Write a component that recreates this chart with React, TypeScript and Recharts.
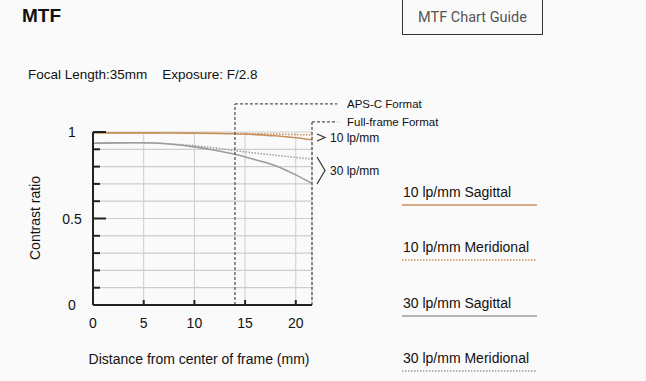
import {
  LineChart, Line, XAxis, YAxis, CartesianGrid, ReferenceLine, Legend
} from 'recharts'

// image height position (mm from centre)
const distance = [0, 2, 4, 6, 8, 10, 12, 14, 16, 18, 20, 21.6]
const sag10 = [0.995, 0.995, 0.995, 0.995, 0.994, 0.993, 0.992, 0.99, 0.985, 0.978, 0.967, 0.955]
const mer10 = [0.995, 0.995, 0.995, 0.995, 0.995, 0.994, 0.993, 0.992, 0.99, 0.988, 0.985, 0.983]
const sag30 = [0.935, 0.937, 0.938, 0.936, 0.928, 0.914, 0.895, 0.871, 0.84, 0.805, 0.752, 0.703]
const mer30 = [0.935, 0.937, 0.938, 0.936, 0.93, 0.921, 0.908, 0.893, 0.878, 0.866, 0.853, 0.843]

const xTicks = [0, 5, 10, 15, 20]
const yTicks = [0, 0.1, 0.2, 0.3, 0.4, 0.5, 0.6, 0.7, 0.8, 0.9, 1]
const yLabels = [0, 0.5, 1]

const apsC = 14
const fullFrame = 21.6
const apsCTop = 1.162
const fullFrameTop = 1.058
const labelEnd = 24.1

const seriesNames = ['10 lp/mm Sagittal', '10 lp/mm Meridional', '30 lp/mm Sagittal', '30 lp/mm Meridional']

const data = distance.map((d, i) => ({
  d, s10: sag10[i], m10: mer10[i], s30: sag30[i], m30: mer30[i]
}))

const ORANGE = '#c8915c'
const GRAY = '#9c9c9c'
const GRID = '#cdcdcd'
const FONT = "'Liberation Sans', Arial, sans-serif"
const INK = '#111'
const PLOT_LEFT = 93
const PLOT_BOTTOM = 305

const legendItems = [
  { name: seriesNames[0], color: ORANGE, dash: undefined },
  { name: seriesNames[1], color: ORANGE, dash: '1.5 1.5' },
  { name: seriesNames[2], color: GRAY, dash: undefined },
  { name: seriesNames[3], color: GRAY, dash: '1.5 1.5' },
]

function YTick({ y, payload }: any) {
  const v = payload.value
  const major = yLabels.some(l => Math.abs(l - v) < 1e-6)
  return (
    <g>
      <line x1={PLOT_LEFT} x2={PLOT_LEFT + (major ? 13 : 7)} y1={y} y2={y} stroke="#222" strokeWidth={2} />
      {major && (
        <text x={72} y={y} textAnchor="middle" dominantBaseline="central" fontSize={14} fill={INK} fontFamily={FONT}>
          {v}
        </text>
      )}
    </g>
  )
}

function XTick({ x, payload }: any) {
  return (
    <g>
      <line x1={x} x2={x} y1={PLOT_BOTTOM} y2={PLOT_BOTTOM - 5} stroke="#222" strokeWidth={2} />
      <text x={x} y={PLOT_BOTTOM + 18} textAnchor="middle" dominantBaseline="central" fontSize={14} fill={INK} fontFamily={FONT}>
        {payload.value}
      </text>
    </g>
  )
}

function LegendList() {
  return (
    <div style={{ fontFamily: FONT }}>
      {legendItems.map(item => (
        <div key={item.name} style={{ height: 55.4, position: 'relative' }}>
          <div style={{ fontSize: 14, color: INK, lineHeight: '18px', paddingLeft: 1 }}>{item.name}</div>
          <svg width={135} height={4} style={{ position: 'absolute', top: 20, left: 0 }}>
            <line x1={0} x2={135} y1={2} y2={2} stroke={item.color} strokeWidth={item.dash ? 1.5 : 1.6} strokeDasharray={item.dash} />
          </svg>
        </div>
      ))}
    </div>
  )
}

export default function App() {
  return (
    <div style={{ position: 'absolute', left: 0, top: 0, width: 646, height: 381, background: '#fafafa', overflow: 'hidden', fontFamily: FONT }}>
      <div style={{ position: 'absolute', left: 22, top: 5, fontSize: 19, fontWeight: 'bold', color: '#111' }}>MTF</div>
      <div style={{
        position: 'absolute', left: 402, top: -1, width: 139, height: 34, border: '1px solid #333',
        display: 'flex', alignItems: 'center', justifyContent: 'center',
        fontFamily: "Roboto, 'Liberation Sans', sans-serif", fontSize: 14.5, color: '#555'
      }}>MTF Chart Guide</div>
      <div style={{ position: 'absolute', left: 28, top: 67, fontSize: 13.5, color: INK, whiteSpace: 'nowrap' }}>
        <span>Focal Length:35mm</span>
        <span style={{ marginLeft: 15 }}>Exposure: F/2.8</span>
      </div>

      <LineChart width={646} height={381} data={data} margin={{ top: 132, right: 334, bottom: 46, left: 33 }}
        style={{ position: 'absolute', left: 0, top: 0 }}>
        <CartesianGrid stroke={GRID} strokeWidth={1} horizontal={false} />
        {yTicks.map(t => (
          <ReferenceLine key={t} y={t} stroke={GRID} strokeWidth={1.2} />
        ))}
        <XAxis type="number" dataKey="d" domain={[0, fullFrame]} ticks={xTicks} interval={0} allowDataOverflow
          axisLine={{ stroke: '#222', strokeWidth: 2 }} tickLine={false} tick={<XTick />} height={30} />
        <YAxis type="number" domain={[0, 1]} ticks={yTicks} interval={0} allowDataOverflow width={60}
          axisLine={{ stroke: '#222', strokeWidth: 2 }} tickLine={false} tick={<YTick />} />
        <Line dataKey="m30" name={seriesNames[3]} type="monotone" stroke={GRAY} strokeWidth={1.5} strokeDasharray="1.5 1.5" dot={false} isAnimationActive={false} />
        <Line dataKey="s30" name={seriesNames[2]} type="monotone" stroke={GRAY} strokeWidth={1.6} dot={false} isAnimationActive={false} />
        <Line dataKey="m10" name={seriesNames[1]} type="monotone" stroke={ORANGE} strokeWidth={1.5} strokeDasharray="1.5 1.5" dot={false} isAnimationActive={false} />
        <Line dataKey="s10" name={seriesNames[0]} type="monotone" stroke={ORANGE} strokeWidth={1.6} dot={false} isAnimationActive={false} />
        <ReferenceLine segment={[{ x: apsC, y: 0 }, { x: apsC, y: apsCTop }]} ifOverflow="visible" stroke="#555" strokeWidth={1.3} strokeDasharray="3 2" />
        <ReferenceLine segment={[{ x: apsC, y: apsCTop }, { x: labelEnd, y: apsCTop }]} ifOverflow="visible" stroke="#555" strokeWidth={1.3} strokeDasharray="3 2" />
        <ReferenceLine segment={[{ x: fullFrame, y: 0 }, { x: fullFrame, y: fullFrameTop }]} ifOverflow="visible" stroke="#555" strokeWidth={1.3} strokeDasharray="3 2" />
        <ReferenceLine segment={[{ x: fullFrame, y: fullFrameTop }, { x: labelEnd, y: fullFrameTop }]} ifOverflow="visible" stroke="#555" strokeWidth={1.3} strokeDasharray="3 2" />
        <Legend content={<LegendList />} layout="horizontal" verticalAlign="middle" align="center"
          wrapperStyle={{ position: 'absolute', left: 402, top: 183, width: 140 }} />
      </LineChart>

      <svg width={646} height={381} style={{ position: 'absolute', left: 0, top: 0, pointerEvents: 'none' }}>
        <g fontFamily={FONT} fill={INK}>
          <text x={347} y={104} dominantBaseline="central" fontSize={11.5}>APS-C Format</text>
          <text x={347} y={122} dominantBaseline="central" fontSize={11.5}>Full-frame Format</text>
          <text x={330} y={138} dominantBaseline="central" fontSize={12}>10 lp/mm</text>
          <text x={330} y={171} dominantBaseline="central" fontSize={12}>30 lp/mm</text>
        </g>
        <polyline points="317,134 325,137.5 317,141" fill="none" stroke="#333" strokeWidth={1.2} />
        <polyline points="317,157 325,170.5 317,184" fill="none" stroke="#333" strokeWidth={1.2} />
        <text x={35} y={218} transform="rotate(-90 35 218)" textAnchor="middle" dominantBaseline="central" fontSize={14} fill={INK} fontFamily={FONT}>Contrast ratio</text>
        <text x={199} y={359} textAnchor="middle" dominantBaseline="central" fontSize={14} fill={INK} fontFamily={FONT}>Distance from center of frame (mm)</text>
      </svg>
    </div>
  )
}
